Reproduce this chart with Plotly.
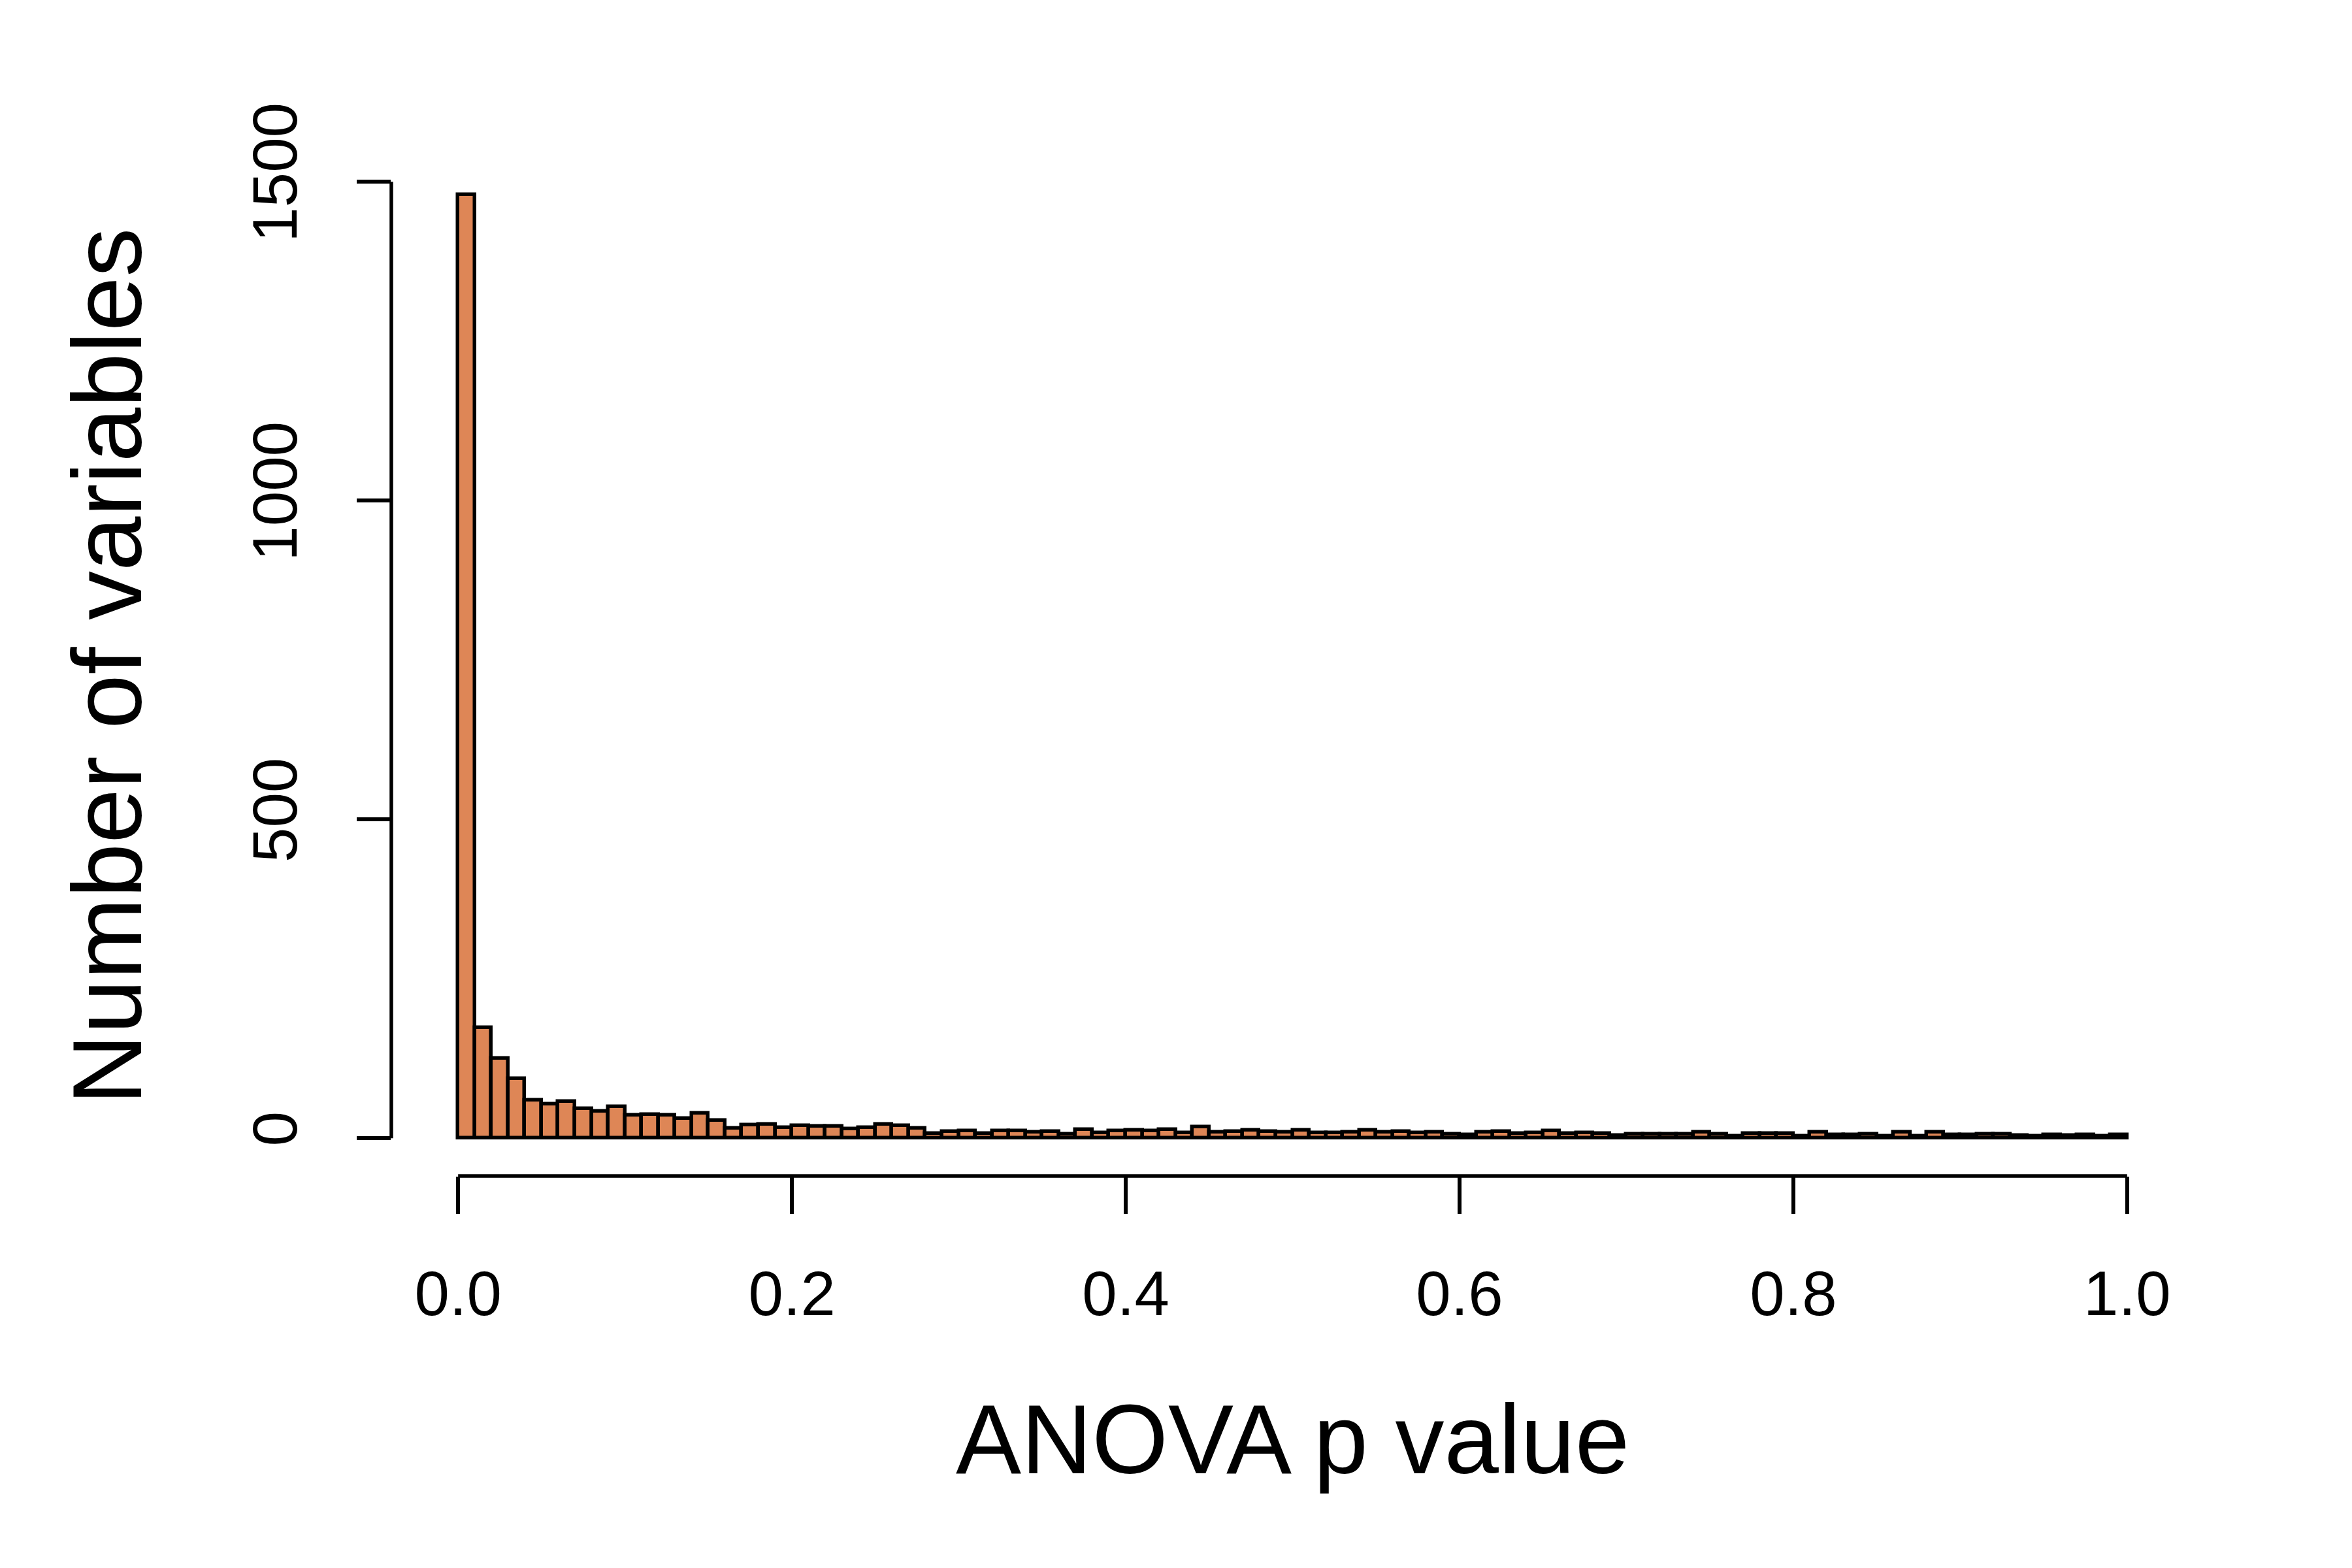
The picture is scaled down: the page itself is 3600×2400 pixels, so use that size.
import numpy as np
import plotly.graph_objects as go

# Histogram of ANOVA p values: 100 bins of width 0.01 on [0, 1]
bin_edges = [round(i * 0.01, 2) for i in range(101)]
counts = [
    1480, 173, 125, 93, 60, 54, 58, 46, 42, 49,
    36, 37, 36, 31, 39, 28, 16, 21, 22, 17,
    20, 19, 19, 15, 17, 22, 20, 16, 7, 10,
    12, 7, 12, 12, 9, 10, 6, 14, 8, 11,
    13, 12, 14, 8, 18, 9, 10, 13, 10, 9,
    13, 8, 8, 9, 13, 9, 10, 8, 9, 6,
    5, 9, 10, 7, 8, 11, 7, 8, 7, 4,
    6, 6, 6, 6, 9, 6, 3, 7, 7, 7,
    3, 9, 5, 5, 6, 3, 9, 3, 9, 5,
    5, 6, 6, 4, 3, 5, 4, 5, 3, 5,
]
x_ticks = [0.0, 0.2, 0.4, 0.6, 0.8, 1.0]
x_tick_labels = ["0.0", "0.2", "0.4", "0.6", "0.8", "1.0"]
y_ticks = [0, 500, 1000, 1500]
y_tick_labels = ["0", "500", "1000", "1500"]
x_title = "ANOVA p value"
y_title = "Number of variables"

edges = np.array(bin_edges)
mids = (edges[:-1] + edges[1:]) / 2
widths = np.diff(edges)

FONT = "Liberation Sans, Arial, Helvetica, sans-serif"
LW = 5.5

fig = go.Figure()
fig.add_trace(go.Bar(
    x=mids, y=counts, width=widths,
    marker=dict(color="#DE8656", line=dict(color="black", width=LW)),
    showlegend=False,
))

# R-style extended ranges (4% padding)
xr = [0 - 0.04 * 1.0, 1.0 + 0.04 * 1.0]
ymax = max(counts)
yr = [0 - 0.04 * ymax, ymax + 0.04 * ymax]

fig.update_layout(
    width=3600, height=2400,
    margin=dict(l=599, r=242, t=240, b=600),
    paper_bgcolor="white", plot_bgcolor="white",
    bargap=0,
    font=dict(family=FONT, color="black"),
    xaxis=dict(
        range=xr, showgrid=False, zeroline=False, showline=False,
        tickmode="array", tickvals=x_ticks, ticktext=x_tick_labels,
        ticks="outside", ticklen=57, tickwidth=LW, tickcolor="black",
        tickfont=dict(size=96, family=FONT, color="black"),
        ticklabelstandoff=40,
    ),
    yaxis=dict(
        range=yr, showgrid=False, zeroline=False, showline=False,
        tickmode="array", tickvals=y_ticks, ticktext=y_tick_labels,
        ticks="outside", ticklen=52, tickwidth=LW, tickcolor="black",
        tickangle=-90,
        tickfont=dict(size=96, family=FONT, color="black"),
        ticklabelstandoff=54,
    ),
    shapes=[
        dict(type="line", xref="x", yref="paper", x0=x_ticks[0], x1=x_ticks[-1],
             y0=0, y1=0, line=dict(color="black", width=LW)),
        dict(type="line", xref="paper", yref="y", x0=0, x1=0,
             y0=y_ticks[0], y1=y_ticks[-1], line=dict(color="black", width=LW)),
    ],
    annotations=[
        dict(text=x_title, xref="paper", yref="paper", x=0.5, y=-0.2583,
             xanchor="center", yanchor="middle", showarrow=False,
             font=dict(size=150, family=FONT, color="black")),
        dict(text=y_title, xref="paper", yref="paper", x=-0.1577, y=0.5,
             xanchor="center", yanchor="middle", textangle=-90, showarrow=False,
             font=dict(size=150, family=FONT, color="black")),
    ],
)

fig.write_html("out.html")
